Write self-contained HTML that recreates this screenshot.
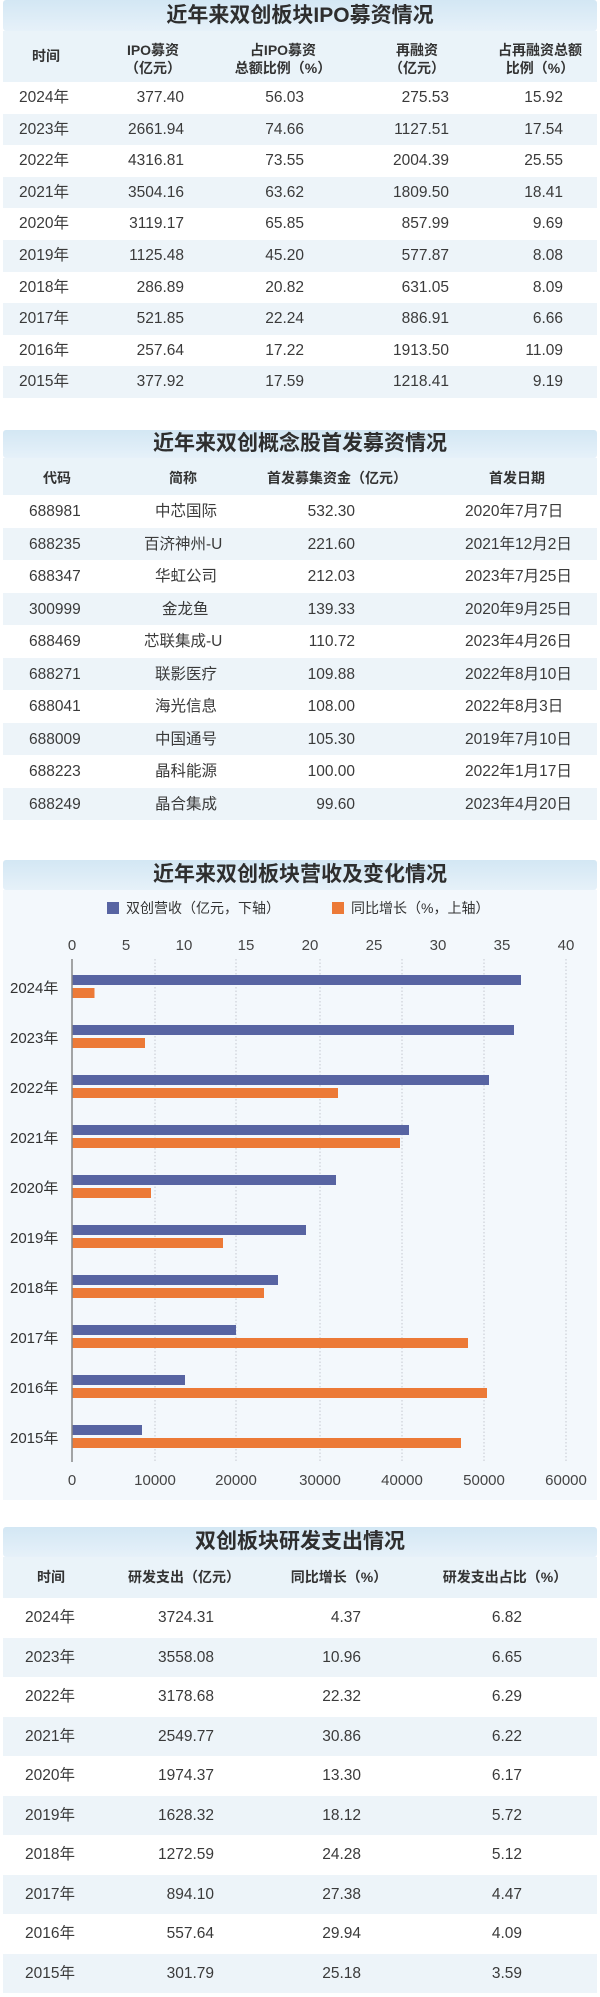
<!DOCTYPE html>
<html><head><meta charset="utf-8">
<style>
*{margin:0;padding:0;box-sizing:border-box}
body{width:600px;height:1997px;background:#fff;position:relative;overflow:hidden;font-family:"Liberation Sans","Noto Sans CJK SC",sans-serif;color:#3a3a3a}
.a{position:absolute}
.band{position:absolute;left:3px;width:594px;background:linear-gradient(#d3e7f4,#e6f1f9);border-radius:3px}
.title{position:absolute;left:0;width:600px;text-align:center;font-weight:bold;font-size:21px;color:#2e2e2e;line-height:30px}
.hdr{position:absolute;left:3px;width:594px;background:#eaf3f9}
.sh{position:absolute;left:3px;width:594px;background:#edf4f9}
.h{position:absolute;font-weight:bold;font-size:14px;color:#333;text-align:center;width:140px;line-height:18px}
.r{position:absolute;left:0;width:600px;font-size:15.5px;height:20px}
.r span{position:absolute;top:0;white-space:nowrap;line-height:20px;height:20px}
</style></head><body>

<!-- Section 1 -->
<div class="band" style="top:0;height:31px"></div>
<div class="title" style="top:1px">近年来双创板块IPO募资情况</div>
<div class="hdr" style="top:31px;height:51px"></div>
<div class="h" style="left:-24px;top:47px">时间</div>
<div class="h" style="left:83px;top:41px">IPO募资<br>（亿元）</div>
<div class="h" style="left:213px;top:41px">占IPO募资<br>总额比例（%）</div>
<div class="h" style="left:347px;top:41px">再融资<br>（亿元）</div>
<div class="h" style="left:470px;top:41px">占再融资总额<br>比例（%）</div>
<div class="sh" style="top:113.6px;height:31.6px"></div>
<div class="sh" style="top:176.8px;height:31.6px"></div>
<div class="sh" style="top:240px;height:31.6px"></div>
<div class="sh" style="top:303.2px;height:31.6px"></div>
<div class="sh" style="top:366.4px;height:31.6px"></div>
<div class="r" style="top:88px"><span style="left:19px">2024年</span><span style="right:416px">377.40</span><span style="right:296px">56.03</span><span style="right:151px">275.53</span><span style="right:37px">15.92</span></div>
<div class="r" style="top:119.6px"><span style="left:19px">2023年</span><span style="right:416px">2661.94</span><span style="right:296px">74.66</span><span style="right:151px">1127.51</span><span style="right:37px">17.54</span></div>
<div class="r" style="top:151.2px"><span style="left:19px">2022年</span><span style="right:416px">4316.81</span><span style="right:296px">73.55</span><span style="right:151px">2004.39</span><span style="right:37px">25.55</span></div>
<div class="r" style="top:182.8px"><span style="left:19px">2021年</span><span style="right:416px">3504.16</span><span style="right:296px">63.62</span><span style="right:151px">1809.50</span><span style="right:37px">18.41</span></div>
<div class="r" style="top:214.4px"><span style="left:19px">2020年</span><span style="right:416px">3119.17</span><span style="right:296px">65.85</span><span style="right:151px">857.99</span><span style="right:37px">9.69</span></div>
<div class="r" style="top:246px"><span style="left:19px">2019年</span><span style="right:416px">1125.48</span><span style="right:296px">45.20</span><span style="right:151px">577.87</span><span style="right:37px">8.08</span></div>
<div class="r" style="top:277.6px"><span style="left:19px">2018年</span><span style="right:416px">286.89</span><span style="right:296px">20.82</span><span style="right:151px">631.05</span><span style="right:37px">8.09</span></div>
<div class="r" style="top:309.2px"><span style="left:19px">2017年</span><span style="right:416px">521.85</span><span style="right:296px">22.24</span><span style="right:151px">886.91</span><span style="right:37px">6.66</span></div>
<div class="r" style="top:340.8px"><span style="left:19px">2016年</span><span style="right:416px">257.64</span><span style="right:296px">17.22</span><span style="right:151px">1913.50</span><span style="right:37px">11.09</span></div>
<div class="r" style="top:372.4px"><span style="left:19px">2015年</span><span style="right:416px">377.92</span><span style="right:296px">17.59</span><span style="right:151px">1218.41</span><span style="right:37px">9.19</span></div>

<!-- Section 2 -->
<div class="band" style="top:430px;height:28px"></div>
<div class="title" style="top:429px">近年来双创概念股首发募资情况</div>
<div class="hdr" style="top:458px;height:37px"></div>
<div class="h" style="left:-13px;top:469px">代码</div>
<div class="h" style="left:113px;top:469px">简称</div>
<div class="h" style="left:247px;top:469px;width:180px">首发募集资金（亿元）</div>
<div class="h" style="left:447px;top:469px">首发日期</div>
<div class="sh" style="top:527.5px;height:32.5px"></div>
<div class="sh" style="top:592.5px;height:32.5px"></div>
<div class="sh" style="top:657.5px;height:32.5px"></div>
<div class="sh" style="top:722.5px;height:32.5px"></div>
<div class="sh" style="top:787.5px;height:32.5px"></div>
<div class="r" style="top:502px"><span style="left:29px">688981</span><span style="left:155px">中芯国际</span><span style="right:245px">532.30</span><span style="left:465px">2020年7月7日</span></div>
<div class="r" style="top:534.5px"><span style="left:29px">688235</span><span style="left:144px">百济神州-U</span><span style="right:245px">221.60</span><span style="left:465px">2021年12月2日</span></div>
<div class="r" style="top:567px"><span style="left:29px">688347</span><span style="left:155px">华虹公司</span><span style="right:245px">212.03</span><span style="left:465px">2023年7月25日</span></div>
<div class="r" style="top:599.5px"><span style="left:29px">300999</span><span style="left:162px">金龙鱼</span><span style="right:245px">139.33</span><span style="left:465px">2020年9月25日</span></div>
<div class="r" style="top:632px"><span style="left:29px">688469</span><span style="left:144px">芯联集成-U</span><span style="right:245px">110.72</span><span style="left:465px">2023年4月26日</span></div>
<div class="r" style="top:664.5px"><span style="left:29px">688271</span><span style="left:155px">联影医疗</span><span style="right:245px">109.88</span><span style="left:465px">2022年8月10日</span></div>
<div class="r" style="top:697px"><span style="left:29px">688041</span><span style="left:155px">海光信息</span><span style="right:245px">108.00</span><span style="left:465px">2022年8月3日</span></div>
<div class="r" style="top:729.5px"><span style="left:29px">688009</span><span style="left:155px">中国通号</span><span style="right:245px">105.30</span><span style="left:465px">2019年7月10日</span></div>
<div class="r" style="top:762px"><span style="left:29px">688223</span><span style="left:155px">晶科能源</span><span style="right:245px">100.00</span><span style="left:465px">2022年1月17日</span></div>
<div class="r" style="top:794.5px"><span style="left:29px">688249</span><span style="left:155px">晶合集成</span><span style="right:245px">99.60</span><span style="left:465px">2023年4月20日</span></div>

<!-- Section 3 chart -->
<div class="a" style="left:3px;top:890px;width:594px;height:610px;background:#f3f8fc"></div>
<div class="band" style="top:860px;height:30px"></div>
<div class="title" style="top:860px">近年来双创板块营收及变化情况</div>
<svg class="a" style="left:0;top:850px" width="600" height="650" viewBox="0 0 600 650" font-family="Liberation Sans, Noto Sans CJK SC, sans-serif">
<rect x="107" y="52" width="12" height="12" fill="#5764a2"/>
<text x="126" y="63" font-size="14" fill="#333">双创营收（亿元，下轴）</text>
<rect x="332" y="52" width="12" height="12" fill="#ec7a37"/>
<text x="351" y="63" font-size="14" fill="#333">同比增长（%，上轴）</text>
<g font-size="15" fill="#444" text-anchor="middle">
<text x="72" y="100">0</text><text x="126" y="100">5</text><text x="184" y="100">10</text><text x="246" y="100">15</text><text x="310" y="100">20</text><text x="374" y="100">25</text><text x="438" y="100">30</text><text x="502" y="100">35</text><text x="566" y="100">40</text>
<text x="72" y="635">0</text><text x="155" y="635">10000</text><text x="236" y="635">20000</text><text x="320" y="635">30000</text><text x="402" y="635">40000</text><text x="484" y="635">50000</text><text x="566" y="635">60000</text>
</g>
<g stroke="#c4c9cf" stroke-width="1" stroke-dasharray="1.5,2">
<line x1="155" y1="109" x2="155" y2="612"/><line x1="236" y1="109" x2="236" y2="612"/><line x1="320" y1="109" x2="320" y2="612"/><line x1="402" y1="109" x2="402" y2="612"/><line x1="484" y1="109" x2="484" y2="612"/><line x1="566" y1="109" x2="566" y2="612"/>
</g>
<g fill="#5764a2">
<rect x="72" y="125" width="449" height="10"/><rect x="72" y="175" width="442" height="10"/><rect x="72" y="225" width="417" height="10"/><rect x="72" y="275" width="337" height="10"/><rect x="72" y="325" width="264" height="10"/><rect x="72" y="375" width="234" height="10"/><rect x="72" y="425" width="206" height="10"/><rect x="72" y="475" width="164" height="10"/><rect x="72" y="525" width="113" height="10"/><rect x="72" y="575" width="70" height="10"/>
</g>
<g fill="#ec7a37">
<rect x="72" y="138" width="22.5" height="10"/><rect x="72" y="188" width="73" height="10"/><rect x="72" y="238" width="266" height="10"/><rect x="72" y="288" width="328" height="10"/><rect x="72" y="338" width="79" height="10"/><rect x="72" y="388" width="151" height="10"/><rect x="72" y="438" width="192" height="10"/><rect x="72" y="488" width="396" height="10"/><rect x="72" y="538" width="415" height="10"/><rect x="72" y="588" width="389" height="10"/>
</g>
<line x1="72" y1="109" x2="72" y2="612" stroke="#888" stroke-width="1.5"/>
<g font-size="15" fill="#333">
<text x="10" y="143">2024年</text><text x="10" y="193">2023年</text><text x="10" y="243">2022年</text><text x="10" y="293">2021年</text><text x="10" y="343">2020年</text><text x="10" y="393">2019年</text><text x="10" y="443">2018年</text><text x="10" y="493">2017年</text><text x="10" y="543">2016年</text><text x="10" y="593">2015年</text>
</g>
</svg>

<!-- Section 4 -->
<div class="band" style="top:1527px;height:30px"></div>
<div class="title" style="top:1527px">双创板块研发支出情况</div>
<div class="hdr" style="top:1557px;height:41px"></div>
<div class="h" style="left:-19px;top:1568px">时间</div>
<div class="h" style="left:94px;top:1568px;width:180px">研发支出（亿元）</div>
<div class="h" style="left:249px;top:1568px;width:180px">同比增长（%）</div>
<div class="h" style="left:415px;top:1568px;width:180px">研发支出占比（%）</div>
<div class="sh" style="top:1637.5px;height:39.5px"></div>
<div class="sh" style="top:1716.5px;height:39.5px"></div>
<div class="sh" style="top:1795.5px;height:39.5px"></div>
<div class="sh" style="top:1874.5px;height:39.5px"></div>
<div class="sh" style="top:1953.5px;height:39.5px"></div>
<div class="r" style="top:1608px"><span style="left:25px">2024年</span><span style="right:386px">3724.31</span><span style="right:239px">4.37</span><span style="right:78px">6.82</span></div>
<div class="r" style="top:1647.5px"><span style="left:25px">2023年</span><span style="right:386px">3558.08</span><span style="right:239px">10.96</span><span style="right:78px">6.65</span></div>
<div class="r" style="top:1687px"><span style="left:25px">2022年</span><span style="right:386px">3178.68</span><span style="right:239px">22.32</span><span style="right:78px">6.29</span></div>
<div class="r" style="top:1726.5px"><span style="left:25px">2021年</span><span style="right:386px">2549.77</span><span style="right:239px">30.86</span><span style="right:78px">6.22</span></div>
<div class="r" style="top:1766px"><span style="left:25px">2020年</span><span style="right:386px">1974.37</span><span style="right:239px">13.30</span><span style="right:78px">6.17</span></div>
<div class="r" style="top:1805.5px"><span style="left:25px">2019年</span><span style="right:386px">1628.32</span><span style="right:239px">18.12</span><span style="right:78px">5.72</span></div>
<div class="r" style="top:1845px"><span style="left:25px">2018年</span><span style="right:386px">1272.59</span><span style="right:239px">24.28</span><span style="right:78px">5.12</span></div>
<div class="r" style="top:1884.5px"><span style="left:25px">2017年</span><span style="right:386px">894.10</span><span style="right:239px">27.38</span><span style="right:78px">4.47</span></div>
<div class="r" style="top:1924px"><span style="left:25px">2016年</span><span style="right:386px">557.64</span><span style="right:239px">29.94</span><span style="right:78px">4.09</span></div>
<div class="r" style="top:1963.5px"><span style="left:25px">2015年</span><span style="right:386px">301.79</span><span style="right:239px">25.18</span><span style="right:78px">3.59</span></div>
</body></html>
